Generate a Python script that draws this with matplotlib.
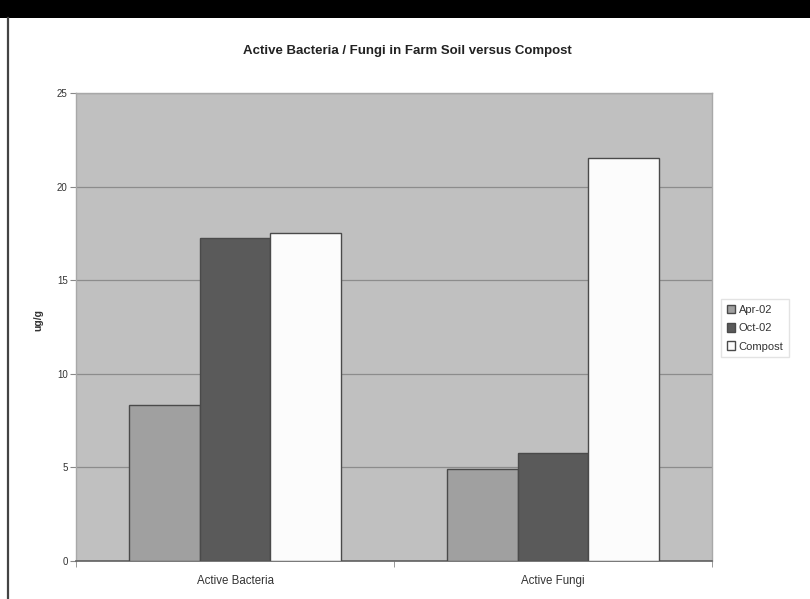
import matplotlib
matplotlib.use("Agg")
import matplotlib.pyplot as plt
import numpy as np

categories = ["Active Bacteria", "Active Fungi"]
series_names = ["Apr-02", "Oct-02", "Compost"]
apr_02 = [8.33, 4.9]
oct_02 = [17.25, 5.75]
compost = [17.5, 21.55]
series_values = [apr_02, oct_02, compost]
series_colors = ["#a0a0a0", "#5a5a5a", "#fcfcfc"]
y_ticks = [0, 5, 10, 15, 20, 25]

plt.rcParams["font.family"] = ["Liberation Sans", "DejaVu Sans"]

W, H = 810, 599
fig = plt.figure(figsize=(W / 100, H / 100), dpi=100)
fig.patch.set_facecolor("white")

# black band across the top and the thin frame line on the left
fig.patches.append(plt.Rectangle((0, 1 - 18 / H), 1, 18 / H, transform=fig.transFigure,
                                 facecolor="black", edgecolor="none", zorder=0))
fig.add_artist(plt.Line2D([7.5 / W, 7.5 / W], [0, 1 - 18 / H], transform=fig.transFigure,
                          color="#444444", lw=1.6))

left, right, top, bottom = 76, 712, 93, 561
ax = fig.add_axes([left / W, 1 - bottom / H, (right - left) / W, (bottom - top) / H])
ax.set_facecolor("#c0c0c0")

x = np.arange(len(categories))
bw = 1 / 4.5
for i, (name, vals, col) in enumerate(zip(series_names, series_values, series_colors)):
    ax.bar(x + (i - 1) * bw, vals, width=bw, color=col, edgecolor="#4a4a4a",
           linewidth=1.0, label=name, zorder=3)

ax.set_xlim(-0.5, len(categories) - 0.5)
ax.set_ylim(0, 25)
ax.set_yticks(y_ticks)
ax.set_yticklabels([str(t) for t in y_ticks], fontsize=7, color="#333333")
ax.yaxis.grid(True, color="#8c8c8c", lw=0.9, zorder=1)
ax.set_axisbelow(True)

ax.set_xticks(x)
ax.set_xticklabels(categories, fontsize=8.3, color="#333333")
ax.set_xticks(np.arange(-0.5, len(categories), 1.0), minor=True)
ax.tick_params(axis="x", which="major", length=0, pad=10)
ax.tick_params(axis="x", which="minor", length=4, color="#888888", direction="out")
ax.tick_params(axis="y", length=4, color="#888888", direction="out", pad=2)

for s in ["top", "right", "left"]:
    ax.spines[s].set_color("#a8a8a8")
    ax.spines[s].set_linewidth(1.0)
ax.spines["bottom"].set_color("#606060")
ax.spines["bottom"].set_linewidth(1.2)

ax.set_ylabel("ug/g", fontsize=7.5, fontweight="bold", color="#333333", labelpad=14)
ax.yaxis.set_label_coords((43 - left) / (right - left), (bottom - 320) / (bottom - top))

fig.text(407 / W, 1 - 51 / H, "Active Bacteria / Fungi in Farm Soil versus Compost",
         ha="center", va="center", fontsize=9.5, fontweight="bold", color="#222222")

leg = fig.legend(loc="upper left", bbox_to_anchor=(721 / W, 1 - 299 / H),
                 bbox_transform=fig.transFigure, fontsize=8, frameon=True,
                 fancybox=False, edgecolor="#dddddd", handlelength=0.8, handleheight=0.8,
                 handletextpad=0.3, borderpad=0.5, labelspacing=0.75, borderaxespad=0)
for t in leg.get_texts():
    t.set_color("#333333")

fig.savefig("out.png", dpi=100, facecolor=fig.get_facecolor())
